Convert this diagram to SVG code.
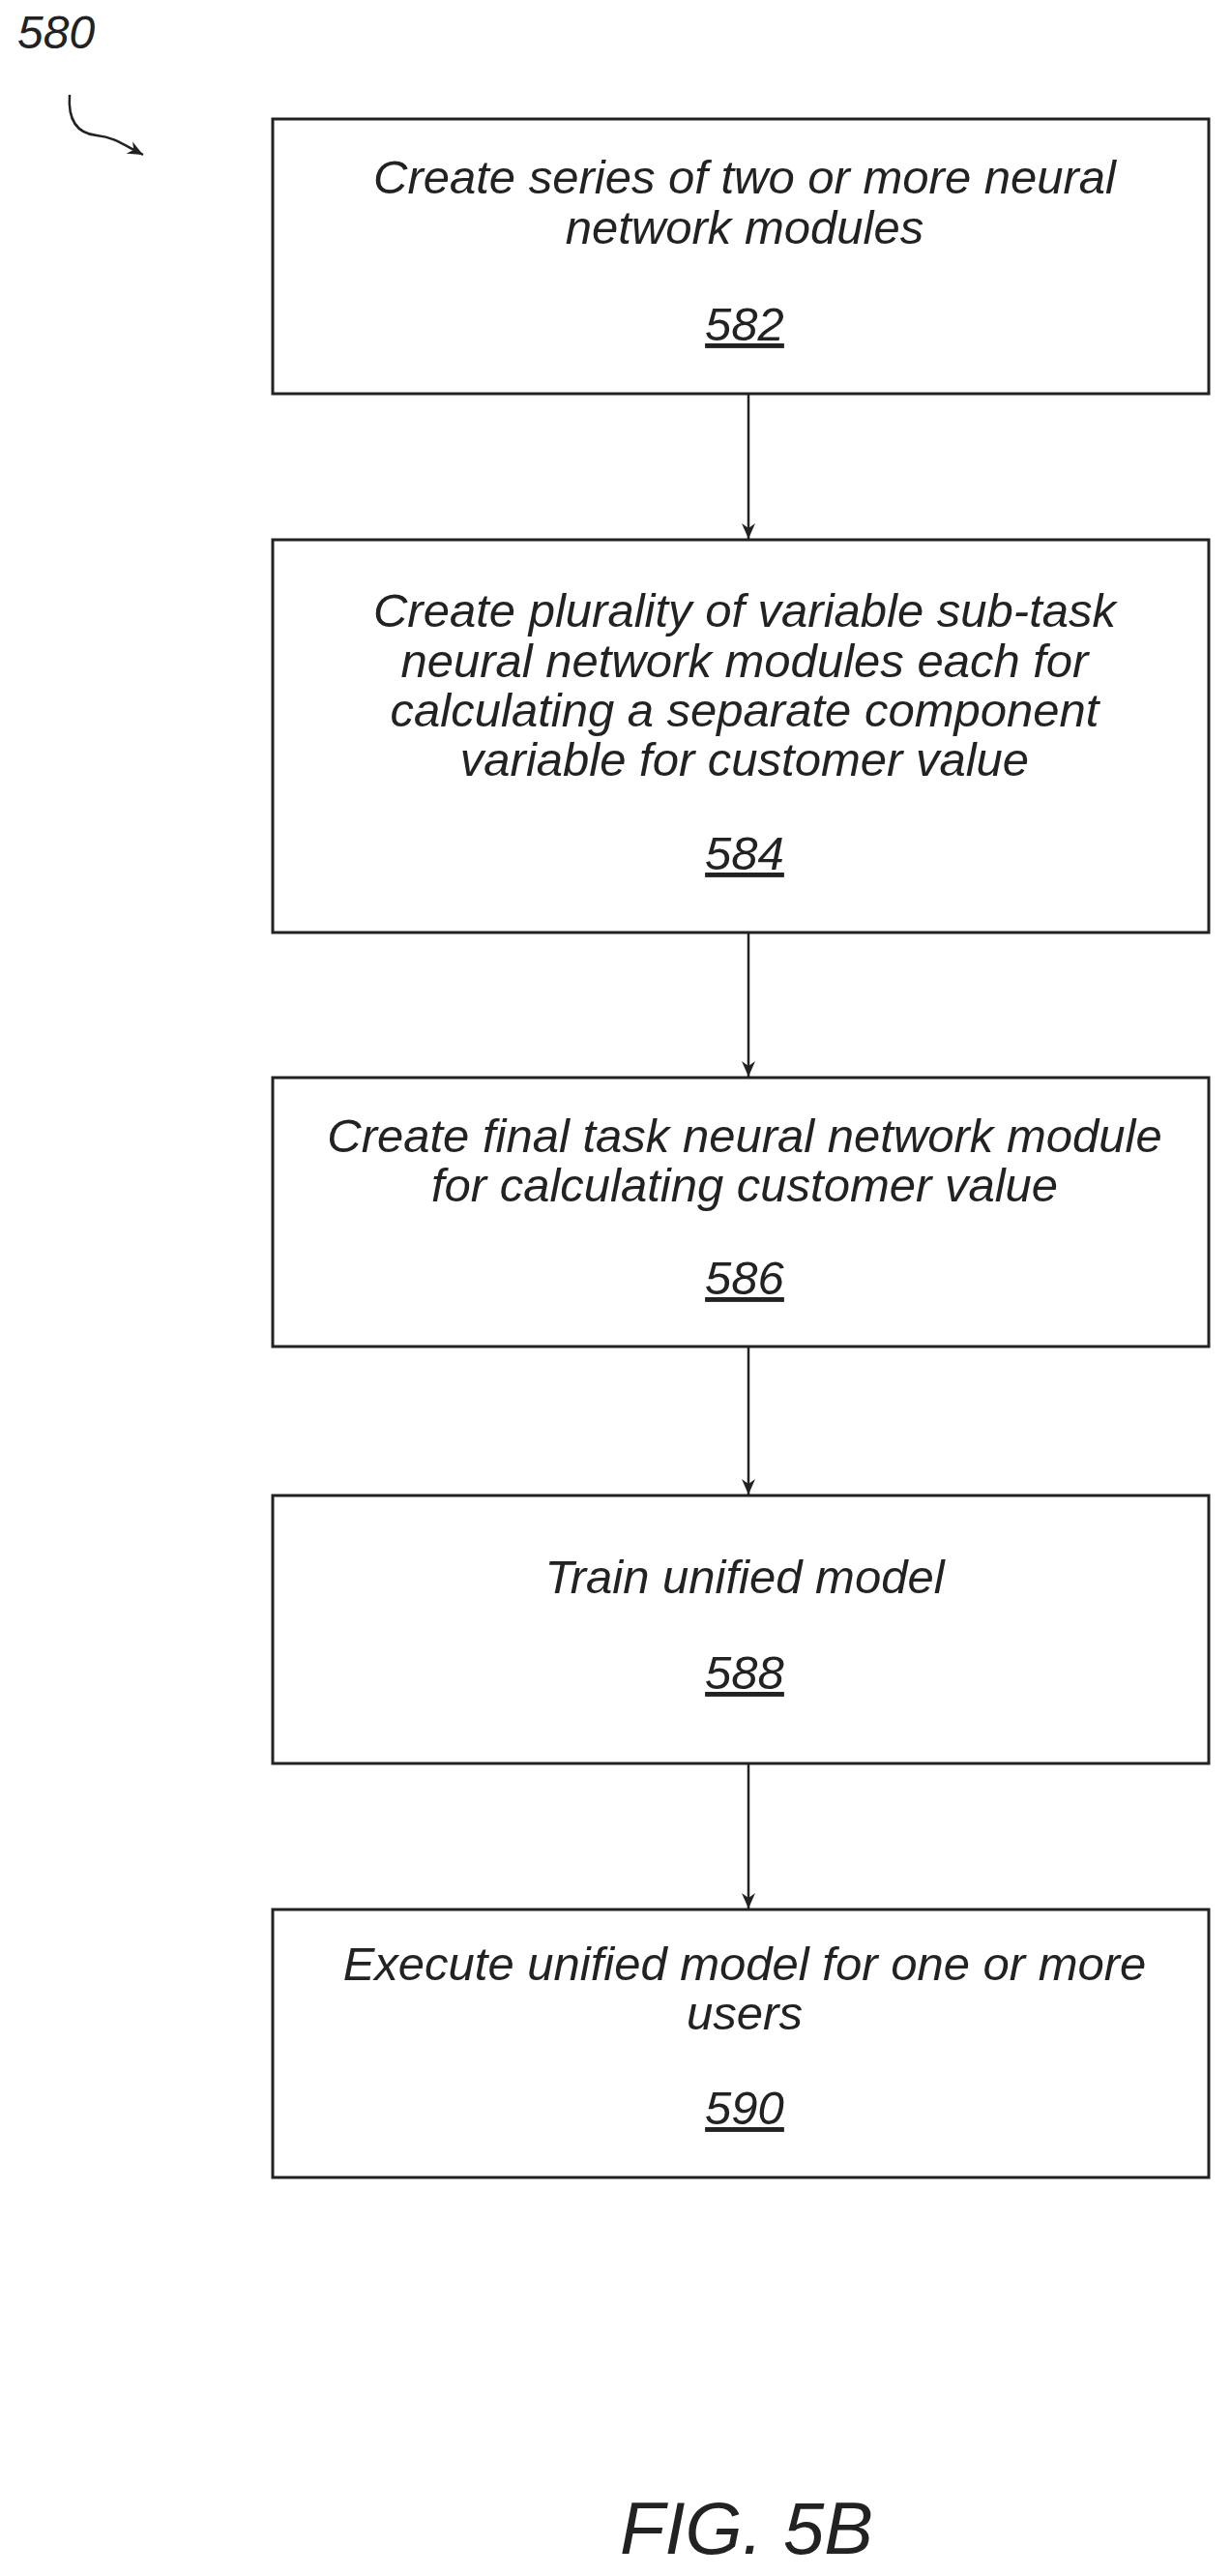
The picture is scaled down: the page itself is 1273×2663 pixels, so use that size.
<svg xmlns="http://www.w3.org/2000/svg" width="1273" height="2663" viewBox="0 0 1273 2663">
<style>
.b{fill:#fff;stroke:#222;stroke-width:3}
.t{font-family:"Liberation Sans",Arial,sans-serif;font-style:italic;font-size:49px;fill:#222;text-anchor:middle}
.n{text-decoration:underline}
.c{stroke:#222;stroke-width:2.5;fill:none}
</style>
<defs><marker id="a" markerWidth="16" markerHeight="14" refX="16" refY="7" orient="auto" markerUnits="userSpaceOnUse" viewBox="0 0 16 14"><path d="M0,0 L16,7 L0,14 L5,7 Z" fill="#222"/></marker></defs>
<rect width="1273" height="2663" fill="#fff"/>
<text class="t" x="18" y="50" style="text-anchor:start;font-size:48px">580</text>
<path class="c" d="M72,98 C70,125 80,138 100,140 C118,142 125,148 148,160" marker-end="url(#a)"/>
<g id="n582"><rect class="b" x="282" y="123" width="968" height="284"/>
<text class="t" x="770" y="200">Create series of two or more neural</text>
<text class="t" x="770" y="252">network modules</text>
<text class="t n" x="770" y="352">582</text></g>
<g id="n584"><rect class="b" x="282" y="558" width="968" height="406"/>
<text class="t" x="770" y="648">Create plurality of variable sub-task</text>
<text class="t" x="770" y="700">neural network modules each for</text>
<text class="t" x="770" y="751">calculating a separate component</text>
<text class="t" x="770" y="802">variable for customer value</text>
<text class="t n" x="770" y="899">584</text></g>
<g id="n586"><rect class="b" x="282" y="1114" width="968" height="278"/>
<text class="t" x="770" y="1191">Create final task neural network module</text>
<text class="t" x="770" y="1242">for calculating customer value</text>
<text class="t n" x="770" y="1338">586</text></g>
<g id="n588"><rect class="b" x="282" y="1546" width="968" height="277"/>
<text class="t" x="770" y="1647">Train unified model</text>
<text class="t n" x="770" y="1746">588</text></g>
<g id="n590"><rect class="b" x="282" y="1974" width="968" height="277"/>
<text class="t" x="770" y="2047">Execute unified model for one or more</text>
<text class="t" x="770" y="2098">users</text>
<text class="t n" x="770" y="2196">590</text></g>
<g id="connectors">
<line class="c" x1="774" y1="407" x2="774" y2="557" marker-end="url(#a)"/>
<line class="c" x1="774" y1="964" x2="774" y2="1113" marker-end="url(#a)"/>
<line class="c" x1="774" y1="1392" x2="774" y2="1545" marker-end="url(#a)"/>
<line class="c" x1="774" y1="1823" x2="774" y2="1973" marker-end="url(#a)"/>
</g>
<text class="t" x="772" y="2640" style="font-size:76px">FIG. 5B</text>
</svg>
